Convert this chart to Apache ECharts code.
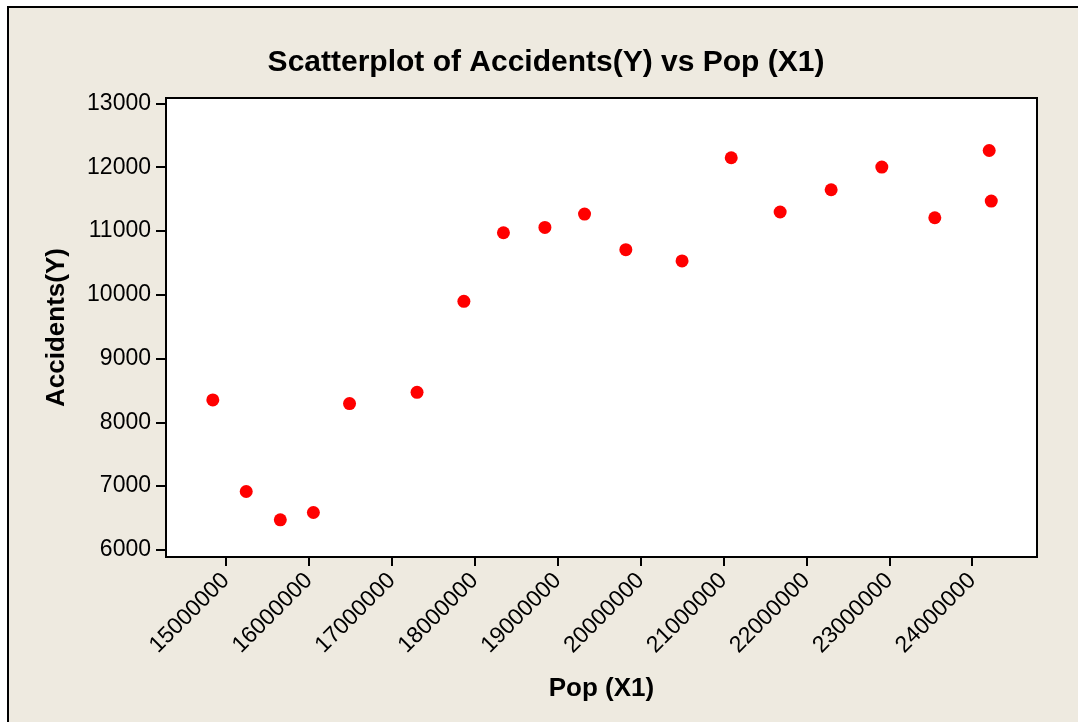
<!DOCTYPE html>
<html lang="en">
<head>
    <meta charset="utf-8">
    <title>Scatterplot of Accidents(Y) vs Pop (X1)</title>
    <script src="https://cdn.jsdelivr.net/npm/echarts@6/dist/echarts.min.js"></script>
    <style type="text/css">
        html, body {margin: 0; padding: 0; background: #fff;}
        #chart {width: 1078px; height: 722px;}
    </style>
</head>
<body>
    <div id="chart"></div>
    <script>
        // values
        var pop = [14842000, 15245000, 15656000, 16055000, 16491000, 17305000, 17870000,
                   18347000, 18847000, 19325000, 19823000, 20501000, 21094000, 21684000,
                   22299000, 22910000, 23549000, 24205000, 24230000];
        var accidents = [8351, 6914, 6470, 6585, 8293, 8470, 9897,
                         10973, 11056, 11266, 10707, 10530, 12149, 11298,
                         11647, 12003, 11208, 12263, 11470];
        var xTicks = [15000000, 16000000, 17000000, 18000000, 19000000,
                      20000000, 21000000, 22000000, 23000000, 24000000];
        var yTicks = [6000, 7000, 8000, 9000, 10000, 11000, 12000, 13000];

        var font = '"Liberation Sans", Arial, sans-serif';
        var points = [];
        for (var i = 0; i < pop.length; i++) points.push([pop[i], accidents[i]]);
        var plain = function (v) { return String(v); };

        var chart = echarts.init(document.getElementById('chart'), null, {renderer: 'canvas'});
        chart.setOption({
            animation: false,
            backgroundColor: '#ffffff',
            graphic: [{
                type: 'rect', z: -10, silent: true,
                shape: {x: 8, y: 7, width: 1100, height: 740},
                style: {fill: '#EEEAE0', stroke: '#000', lineWidth: 2}
            }],
            title: {
                text: 'Scatterplot of Accidents(Y) vs Pop (X1)',
                left: 541, top: 43, textAlign: 'center',
                textStyle: {fontFamily: font, fontSize: 30, fontWeight: 'bold', color: '#000'}
            },
            grid: {
                left: 166, right: 41, top: 98, bottom: 165,
                show: true, backgroundColor: '#fff', borderColor: '#000', borderWidth: 2
            },
            xAxis: {
                type: 'value', min: 14277600, max: 24781500,
                name: 'Pop (X1)', nameLocation: 'middle', nameGap: 119,
                nameTextStyle: {fontFamily: font, fontSize: 26, fontWeight: 'bold', color: '#000'},
                splitLine: {show: false},
                axisLine: {lineStyle: {color: '#000', width: 2}},
                axisTick: {length: 9, lineStyle: {color: '#000', width: 2}, customValues: xTicks},
                axisLabel: {
                    customValues: xTicks, rotate: 45, margin: 20, formatter: plain,
                    fontFamily: font, fontSize: 23, color: '#000'
                }
            },
            yAxis: {
                type: 'value', min: 5887, max: 13086,
                name: 'Accidents(Y)', nameLocation: 'middle', nameGap: 96,
                nameTextStyle: {fontFamily: font, fontSize: 26, fontWeight: 'bold', color: '#000'},
                splitLine: {show: false},
                axisLine: {show: true, lineStyle: {color: '#000', width: 2}},
                axisTick: {show: true, length: 10, lineStyle: {color: '#000', width: 2}, customValues: yTicks},
                axisLabel: {
                    customValues: yTicks, margin: 15, formatter: plain,
                    fontFamily: font, fontSize: 23, color: '#000'
                }
            },
            series: [{
                type: 'scatter', data: points, symbol: 'circle', symbolSize: 13,
                itemStyle: {color: '#ff0000', opacity: 1}
            }]
        });
    </script>
</body>
</html>
